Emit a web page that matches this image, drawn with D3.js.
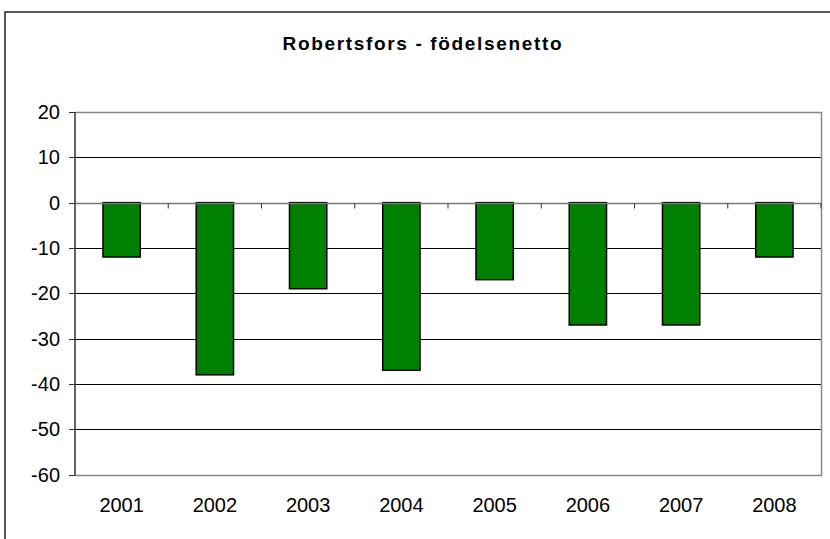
<!DOCTYPE html>
<html>
<head>
<meta charset="utf-8">
<script src="https://cdn.jsdelivr.net/npm/d3@7"></script>
<style>
  body { margin: 0; background: #fff; }
  text { font-family: "Liberation Sans", Arial, sans-serif; fill: #000; }
</style>
</head>
<body>
<div id="wrapper"></div>
<script>
// Data
var years = ["2001", "2002", "2003", "2004", "2005", "2006", "2007", "2008"]
var netto = [-12, -38, -19, -37, -17, -27, -27, -12]
var yTicks = [20, 10, 0, -10, -20, -30, -40, -50, -60]
var title = "Robertsfors - födelsenetto"

var W = 830, H = 539
var plot = { left: 75, right: 821, top: 112, bottom: 474.5 }

var svg = d3.select("#wrapper")
  .append("svg")
  .attr("width", W)
  .attr("height", H)

// outer chart border (only top and left visible)
svg.append("rect")
  .attr("x", 5)
  .attr("y", 12)
  .attr("width", 900)
  .attr("height", 700)
  .attr("fill", "none")
  .attr("stroke", "#222")
  .attr("stroke-width", 1.5)

// title
svg.append("text")
  .attr("x", 422)
  .attr("y", 49.5)
  .attr("text-anchor", "middle")
  .style("font-size", "19px")
  .style("font-weight", "bold")
  .attr("textLength", 279)
  .attr("lengthAdjust", "spacing")
  .text(title)

// scales
var x = d3.scaleBand()
  .domain(years)
  .range([plot.left, plot.right])
  .paddingInner(0.6)
  .paddingOuter(0.3)

var y = d3.scaleLinear()
  .domain([-60, 20])
  .range([plot.bottom, plot.top])

// gridlines
svg.append("g")
  .selectAll("line")
  .data(yTicks.filter(d => d !== 20 && d !== -60 && d !== 0))
  .enter()
  .append("line")
  .attr("x1", plot.left)
  .attr("x2", plot.right)
  .attr("y1", d => Math.round(y(d)) + 0.5)
  .attr("y2", d => Math.round(y(d)) + 0.5)
  .attr("stroke", "#000")
  .attr("stroke-width", 1)

// plot border (top, right, bottom)
svg.append("path")
  .attr("d", "M" + plot.left + "," + (Math.round(plot.top) + 0.5)
    + "H" + (plot.right + 0.5)
    + "V" + (Math.round(plot.bottom) + 0.5)
    + "H" + plot.left)
  .attr("fill", "none")
  .attr("stroke", "#888")
  .attr("stroke-width", 1.5)

// bars
svg.append("g")
  .selectAll("rect")
  .data(netto)
  .enter()
  .append("rect")
  .attr("x", (d, i) => x(years[i]))
  .attr("y", d => y(Math.max(0, d)))
  .attr("width", x.bandwidth())
  .attr("height", d => Math.abs(y(d) - y(0)))
  .attr("fill", "#008000")
  .attr("stroke", "#000")
  .attr("stroke-width", 1.5)

// category axis at zero
var zeroY = Math.round(y(0)) + 0.5
svg.append("line")
  .attr("x1", plot.left)
  .attr("x2", plot.right)
  .attr("y1", zeroY)
  .attr("y2", zeroY)
  .attr("stroke", "#777")
  .attr("stroke-width", 1.5)

svg.append("g")
  .selectAll("line")
  .data(years.slice(1).concat(["end"]))
  .enter()
  .append("line")
  .attr("x1", (d, i) => plot.left + x.step() * (i + 1))
  .attr("x2", (d, i) => plot.left + x.step() * (i + 1))
  .attr("y1", zeroY)
  .attr("y2", zeroY + 5)
  .attr("stroke", "#333")
  .attr("stroke-width", 1)

// value axis
svg.append("line")
  .attr("x1", plot.left)
  .attr("x2", plot.left)
  .attr("y1", plot.top)
  .attr("y2", plot.bottom + 1)
  .attr("stroke", "#333")
  .attr("stroke-width", 1.5)

var yAxis = svg.append("g")
yAxis.selectAll("line")
  .data(yTicks)
  .enter()
  .append("line")
  .attr("x1", plot.left - 6)
  .attr("x2", plot.left)
  .attr("y1", d => Math.round(y(d)) + 0.5)
  .attr("y2", d => Math.round(y(d)) + 0.5)
  .attr("stroke", "#333")
  .attr("stroke-width", 1)

yAxis.selectAll("text")
  .data(yTicks)
  .enter()
  .append("text")
  .attr("x", 60)
  .attr("y", d => y(d) + 7)
  .attr("text-anchor", "end")
  .style("font-size", "20px")
  .text(d => d)

// category labels
svg.append("g")
  .selectAll("text")
  .data(years)
  .enter()
  .append("text")
  .attr("x", d => x(d) + x.bandwidth() / 2)
  .attr("y", 511.5)
  .attr("text-anchor", "middle")
  .style("font-size", "20px")
  .text(d => d)
</script>
</body>
</html>
